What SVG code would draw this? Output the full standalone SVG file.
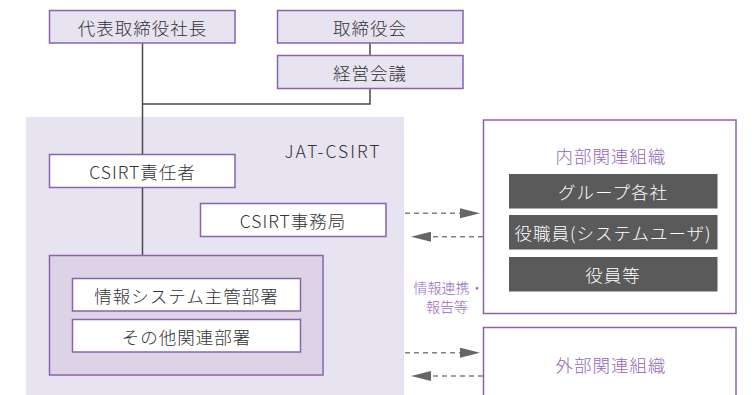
<svg xmlns="http://www.w3.org/2000/svg" width="754" height="395" viewBox="0 0 754 395">
<defs>
<style>
.t{font-family:"Noto Sans CJK JP","Noto Sans",sans-serif;font-size:17.5px;font-weight:300;fill:#333;text-anchor:middle;dominant-baseline:central;letter-spacing:1px}
.tw{fill:#fff}
.tp{fill:#9467b5}
.sm{font-size:14px;letter-spacing:0}
.box{fill:#e8e3f0;stroke:#8b63ad;stroke-width:1.5}
.wbox{fill:#fff;stroke:#8b63ad;stroke-width:1.5}
.dark{fill:#5a5a5a}
.ln{stroke:#4a4a4a;stroke-width:1.5;fill:none}
.dl{stroke:#808080;stroke-width:1.5;stroke-dasharray:5 4;fill:none}
</style>
<marker id="ah" markerUnits="userSpaceOnUse" markerWidth="20" markerHeight="10" refX="0" refY="5" orient="auto">
<path d="M0,0 L20,5 L0,10 z" fill="#666"/>
</marker>
</defs>
<rect x="26" y="117" width="378" height="278" fill="#e8e3f0"/>
<text class="t" x="333" y="150" style="letter-spacing:2px">JAT-CSIRT</text>
<g id="connectors">
<path class="ln" d="M142.5,43 V255"/>
<path class="ln" d="M370,43 V55"/>
<path class="ln" d="M370,89 V104 H142.5"/>
<line class="dl" x1="405" y1="213.3" x2="460" y2="213.3" marker-end="url(#ah)"/>
<line class="dl" x1="483" y1="236.7" x2="431" y2="236.7" marker-end="url(#ah)"/>
<line class="dl" x1="405" y1="352.7" x2="460" y2="352.7" marker-end="url(#ah)"/>
<line class="dl" x1="483" y1="376" x2="431" y2="376" marker-end="url(#ah)"/>
</g>
<g id="ceo"><rect class="box" x="49.5" y="10.5" width="185.5" height="32.5"/><text class="t" x="142.5" y="27">代表取締役社長</text></g>
<g id="board"><rect class="box" x="277.5" y="10.5" width="185.5" height="32.5"/><text class="t" x="370" y="27">取締役会</text></g>
<g id="mgmt"><rect class="box" x="277.5" y="55.5" width="185.5" height="33"/><text class="t" x="370" y="72">経営会議</text></g>
<g id="csirt-head"><rect class="wbox" x="49.5" y="154.5" width="185.5" height="33"/><text class="t" x="142.5" y="171">CSIRT責任者</text></g>
<g id="csirt-office"><rect class="wbox" x="200.5" y="203.5" width="185.5" height="33"/><text class="t" x="293" y="220">CSIRT事務局</text></g>
<g id="depts">
<rect x="49.5" y="255.5" width="273.5" height="119.5" fill="#dcd3e6" stroke="#8b63ad" stroke-width="1.5"/>
<g id="is-dept"><rect class="wbox" x="72.5" y="278.5" width="228" height="32.5"/><text class="t" x="186.5" y="295">情報システム主管部署</text></g>
<g id="other-dept"><rect class="wbox" x="72.5" y="319.5" width="228" height="32.5"/><text class="t" x="186.5" y="336">その他関連部署</text></g>
</g>
<g id="info-label">
<text class="t tp sm" x="441.5" y="287">情報連携</text>
<text class="t tp sm" x="477" y="287">・</text>
<text class="t tp sm" x="447" y="306">報告等</text>
</g>
<g id="internal">
<rect class="wbox" x="483.5" y="120" width="252.5" height="193.5"/>
<text class="t tp" x="611" y="155">内部関連組織</text>
<g id="group-cos"><rect class="dark" x="509" y="174" width="208.5" height="34.5"/><text class="t tw" x="613" y="191">グループ各社</text></g>
<g id="staff"><rect class="dark" x="509" y="215" width="208.5" height="34.5"/><text class="t tw" x="613" y="232">役職員(システムユーザ)</text></g>
<g id="officers"><rect class="dark" x="509" y="257" width="208.5" height="34.5"/><text class="t tw" x="613" y="274">役員等</text></g>
</g>
<g id="external">
<path d="M483.5,396 V327.5 H736 V396" fill="#fff" stroke="#8b63ad" stroke-width="1.5"/>
<text class="t tp" x="611" y="364">外部関連組織</text>
</g>
</svg>
